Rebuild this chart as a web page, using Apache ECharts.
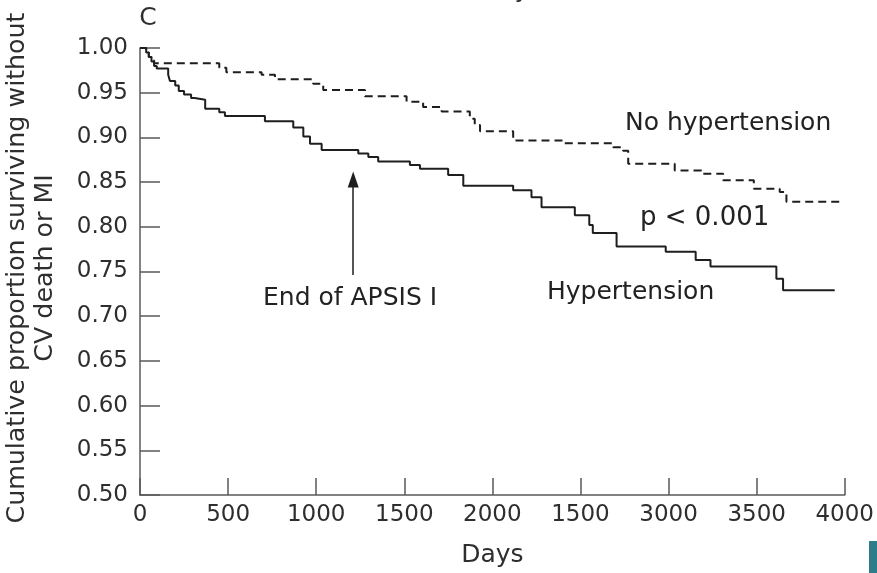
<!DOCTYPE html>
<html>
<head>
<meta charset="utf-8">
<script src="https://cdn.jsdelivr.net/npm/echarts@6/dist/echarts.min.js"></script>
<style>
html,body{margin:0;padding:0;background:#fff;}
#chart{width:877px;height:573px;}
</style>
</head>
<body>
<div id="chart"></div>
<script>
// Kaplan-Meier step data: [day, cumulative proportion]
var hypertensionDays = [0,35,50,65,80,95,160,170,200,220,250,290,310,370,450,482,709,870,927,965,1031,1239,1296,1352,1532,1589,1749,1835,2118,2222,2279,2468,2550,2570,2705,2984,3154,3238,3612,3650,3943];
var hypertensionVals = [1.0,0.995,0.99,0.985,0.98,0.977,0.970,0.963,0.958,0.952,0.948,0.944,0.942,0.932,0.928,0.924,0.918,0.911,0.901,0.893,0.886,0.882,0.878,0.873,0.869,0.865,0.858,0.846,0.841,0.833,0.822,0.813,0.802,0.793,0.778,0.772,0.763,0.7555,0.742,0.729,0.729];
var noHypertensionDays = [0,35,50,65,80,450,490,690,766,983,1040,1277,1513,1607,1712,1872,1900,1930,2118,2411,2686,2742,2771,3035,3187,3310,3484,3631,3669,3972];
var noHypertensionVals = [1.0,0.995,0.99,0.986,0.983,0.978,0.973,0.970,0.965,0.960,0.953,0.946,0.940,0.934,0.929,0.921,0.914,0.907,0.8965,0.8935,0.889,0.885,0.8705,0.863,0.8594,0.852,0.8427,0.839,0.828,0.828];
var xTickLabels = ["0","500","1000","1500","2000","1500","3000","3500","4000"];
var arrowDay = 1210;
var arrowFrom = 0.746;
var arrowTo = 0.853;

function pairs(xs, ys){ return xs.map(function(x,i){ return [x, ys[i]]; }); }

var FONT = 'DejaVu Sans';
var ink = '#1e1e1e';
var txt = '#2e2e2e';
var axisCol = '#5a5a5a';
var chart = echarts.init(document.getElementById('chart'), null, {renderer:'canvas'});
chart.setOption({
  animation:false,
  backgroundColor:'#ffffff',
  grid:{left:140, right:32, top:48, bottom:76},
  xAxis:{
    type:'value', min:0, max:4000, interval:500,
    axisLine:{show:true, lineStyle:{color:axisCol, width:1.5}},
    axisTick:{show:true, inside:true, length:17, lineStyle:{color:axisCol, width:1.5}},
    splitLine:{show:false},
    axisLabel:{margin:9, color:txt, fontFamily:FONT, fontSize:23,
      formatter:function(v){ return xTickLabels[Math.round(v/500)]; }},
    name:'Days', nameLocation:'middle', nameGap:48,
    nameTextStyle:{color:txt, fontFamily:FONT, fontSize:25}
  },
  yAxis:{
    type:'value', min:0.5, max:1.0, interval:0.05,
    axisLine:{show:true, lineStyle:{color:axisCol, width:1.5}},
    axisTick:{show:true, inside:true, length:20, lineStyle:{color:axisCol, width:1.5}},
    splitLine:{show:false},
    axisLabel:{margin:12, color:txt, fontFamily:FONT, fontSize:23,
      formatter:function(v){ return v.toFixed(2); }}
  },
  series:[
    {type:'line', name:'Hypertension', step:'end', showSymbol:false, symbol:'none',
     data:pairs(hypertensionDays, hypertensionVals),
     lineStyle:{color:ink, width:2},
     markLine:{silent:true, symbol:['none','triangle'], symbolSize:[11,16], label:{show:false},
       lineStyle:{color:ink, width:1.5, type:'solid'},
       data:[[{coord:[arrowDay, arrowFrom]},{coord:[arrowDay, arrowTo]}]]}
    },
    {type:'line', name:'No hypertension', step:'end', showSymbol:false, symbol:'none',
     data:pairs(noHypertensionDays, noHypertensionVals),
     lineStyle:{color:ink, width:2, type:[8,5]}
    }
  ],
  graphic:[
    {type:'text', x:31, y:268, rotation:Math.PI/2, style:{
      text:'Cumulative proportion surviving without\nCV death or MI', font:'25.3px "DejaVu Sans"',
      fill:txt, textAlign:'center', textVerticalAlign:'middle', lineHeight:28}},
    {type:'text', x:148, y:18, style:{text:'C', font:'25px "DejaVu Sans"', fill:txt, textAlign:'center', textVerticalAlign:'middle'}},
    {type:'text', x:511, y:-10, style:{text:'Days', font:'25px "DejaVu Sans"', fill:txt, textAlign:'center', textVerticalAlign:'middle'}},
    {type:'text', x:625, y:123, style:{text:'No hypertension', font:'25px "DejaVu Sans"', fill:'#222', textAlign:'left', textVerticalAlign:'middle'}},
    {type:'text', x:640, y:218, style:{text:'p < 0.001', font:'26px "DejaVu Sans"', fill:'#222', textAlign:'left', textVerticalAlign:'middle'}},
    {type:'text', x:547, y:292, style:{text:'Hypertension', font:'25px "DejaVu Sans"', fill:'#222', textAlign:'left', textVerticalAlign:'middle'}},
    {type:'text', x:263, y:298, style:{text:'End of APSIS I', font:'25px "DejaVu Sans"', fill:'#222', textAlign:'left', textVerticalAlign:'middle'}},
    {type:'rect', shape:{x:869, y:541, width:8, height:32}, style:{fill:'#2f7d88'}}
  ]
});
</script>
</body>
</html>
